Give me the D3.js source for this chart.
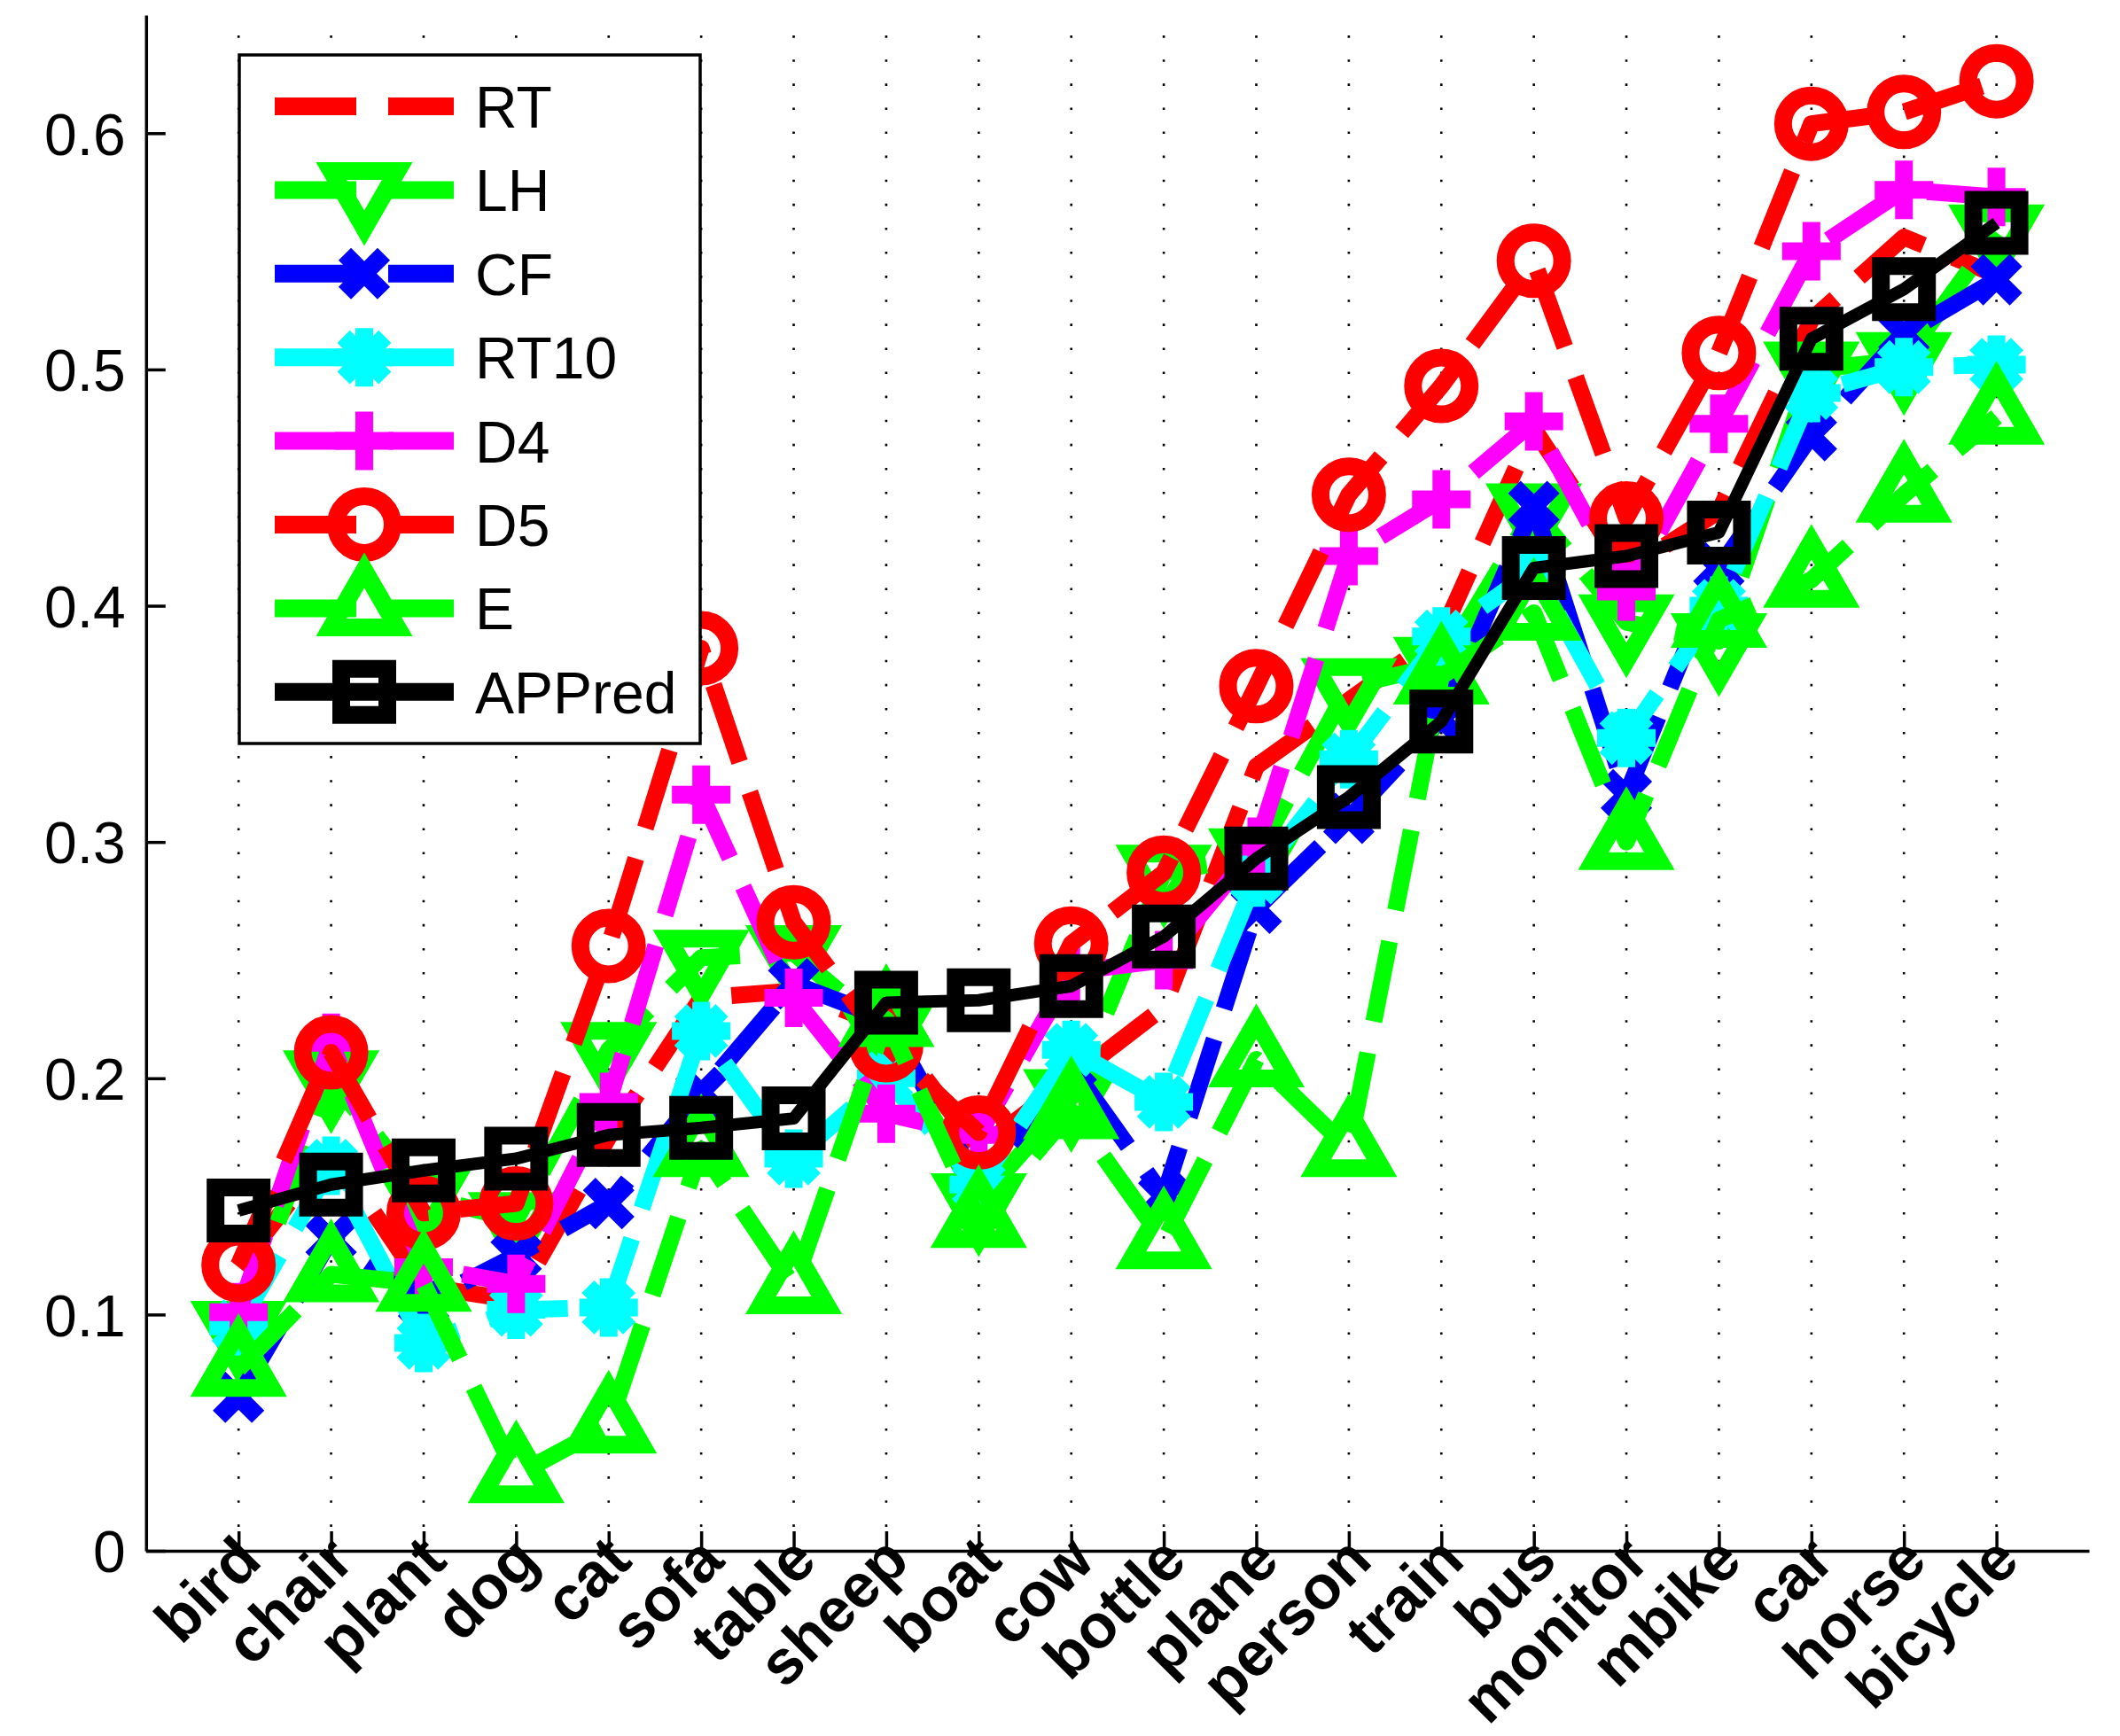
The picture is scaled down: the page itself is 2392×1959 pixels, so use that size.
<!DOCTYPE html>
<html lang="en">
<head>
    <meta charset="UTF-8">
    <title>AP per class</title>
    <script src="https://cdnjs.cloudflare.com/ajax/libs/d3/7.8.5/d3.min.js"></script>
    <style>
        body { margin: 0; background: #fff; }
        text { font-family: "Liberation Sans", Arial, Helvetica, sans-serif; }
    </style>
</head>
<body>
<svg id="chart" width="2392" height="1959"></svg>
<script>
    const categories = ["bird","chair","plant","dog","cat","sofa","table","sheep","boat","cow",
        "bottle","plane","person","train","bus","monitor","mbike","car","horse","bicycle"];

    const RT     = [0.120,0.170,0.112,0.106,0.175,0.234,0.237,0.222,0.170,0.200,0.230,0.332,0.360,0.388,0.475,0.415,0.440,0.521,0.556,0.540];
    const LH     = [0.094,0.200,0.150,0.140,0.212,0.251,0.253,0.220,0.148,0.192,0.287,0.294,0.366,0.375,0.440,0.393,0.385,0.500,0.504,0.558];
    const CF     = [0.065,0.132,0.105,0.125,0.147,0.194,0.240,0.225,0.155,0.205,0.150,0.272,0.310,0.352,0.442,0.320,0.416,0.472,0.515,0.538];
    const RT10   = [0.095,0.163,0.088,0.102,0.103,0.220,0.166,0.200,0.155,0.212,0.190,0.285,0.335,0.387,0.415,0.344,0.400,0.490,0.501,0.502];
    const D4     = [0.101,0.215,0.120,0.113,0.190,0.320,0.234,0.185,0.176,0.245,0.250,0.298,0.421,0.445,0.478,0.406,0.477,0.550,0.576,0.573];
    const D5     = [0.121,0.211,0.143,0.147,0.256,0.382,0.266,0.214,0.177,0.257,0.287,0.366,0.447,0.493,0.546,0.437,0.507,0.604,0.609,0.622];
    const E      = [0.077,0.117,0.113,0.032,0.053,0.170,0.112,0.225,0.140,0.186,0.131,0.208,0.170,0.370,0.397,0.300,0.394,0.411,0.447,0.480];
    const APPred = [0.144,0.155,0.161,0.166,0.176,0.179,0.183,0.232,0.233,0.239,0.260,0.293,0.319,0.351,0.416,0.421,0.431,0.513,0.534,0.562];

    const yTicks = [0, 0.1, 0.2, 0.3, 0.4, 0.5, 0.6];

    // plotting order as in the figure (later ones drawn on top)
    const series = [
        {name: "RT",     values: RT,     color: "#ff0000", marker: null},
        {name: "LH",     values: LH,     color: "#00ff00", marker: "tdown"},
        {name: "CF",     values: CF,     color: "#0000ff", marker: "x"},
        {name: "RT10",   values: RT10,   color: "#00ffff", marker: "star"},
        {name: "D4",     values: D4,     color: "#ff00ff", marker: "plus"},
        {name: "D5",     values: D5,     color: "#ff0000", marker: "circle"},
        {name: "E",      values: E,      color: "#00ff00", marker: "tup"},
        {name: "APPred", values: APPred, color: "#000000", marker: "square", solid: true}
    ];

    const axLeft = 164.8, axRight = 2357, axTop = 17, axBottom = 1750;
    const x = d3.scaleLinear().domain([0, 21]).range([axLeft, axRight]);
    const y = d3.scaleLinear().domain([0, 0.65]).range([axBottom, axTop]);

    const svg = d3.select("#chart");
    svg.append("rect").attr("width", 2392).attr("height", 1959).attr("fill", "#fff");

    // marker shapes, centred on 0,0
    const t = 21.5, s3 = Math.sqrt(3) * t, dg = 33 * Math.SQRT1_2;
    const markerPath = {
        tdown: `M${-s3},${-t}L${s3},${-t}L0,${2 * t}Z`,
        tup: `M${-s3},${t}L${s3},${t}L0,${-2 * t}Z`,
        x: "M-22,-22L22,22M-22,22L22,-22",
        plus: "M-33,0L33,0M0,-33L0,33",
        star: `M-33,0L33,0M0,-33L0,33M${-dg},${-dg}L${dg},${dg}M${-dg},${dg}L${dg},${-dg}`,
        circle: "M32,0A32,32 0 1,1 -32,0A32,32 0 1,1 32,0Z",
        square: "M-26,-26L26,-26L26,26L-26,26Z"
    };

    // dotted vertical grid
    svg.append("g").selectAll("line").data(d3.range(1, 21)).join("line")
        .attr("x1", i => x(i)).attr("x2", i => x(i))
        .attr("y1", axBottom).attr("y2", axTop)
        .attr("stroke", "#000").attr("stroke-width", 2.6)
        .attr("stroke-dasharray", "2.6 24.5");

    // axes
    const yAxis = d3.axisLeft(y).tickValues(yTicks).tickSizeInner(-22).tickSizeOuter(0).tickPadding(23)
        .tickFormat(v => v === 0 ? "0" : v.toFixed(1));
    const gy = svg.append("g").attr("transform", `translate(${axLeft},0)`).call(yAxis);
    gy.select(".domain").attr("stroke-width", 3.5);
    gy.selectAll(".tick line").attr("stroke-width", 3.5);
    gy.selectAll(".tick text").attr("font-size", 66).attr("dy", "0.36em").attr("fill", "#000")
        .style("font-family", '"Liberation Sans", Arial, sans-serif');

    const xAxis = d3.axisBottom(x).tickValues(d3.range(1, 21)).tickSizeInner(-22).tickSizeOuter(0)
        .tickFormat(i => categories[i - 1]);
    const gx = svg.append("g").attr("transform", `translate(0,${axBottom})`).call(xAxis);
    gx.select(".domain").attr("stroke-width", 3.5);
    gx.selectAll(".tick line").attr("stroke-width", 3.5);
    gx.selectAll(".tick text")
        .attr("y", null).attr("dy", null)
        .attr("transform", "translate(28,14) rotate(-45)")
        .attr("text-anchor", "end")
        .attr("font-size", 70).attr("font-weight", "bold").attr("fill", "#000")
        .style("font-family", '"Liberation Sans", Arial, sans-serif');

    const line = d3.line().x((v, i) => x(i + 1)).y(v => y(v));

    series.forEach(sr => {
        const g = svg.append("g");
        g.append("path").datum(sr.values).attr("d", line)
            .attr("fill", "none").attr("stroke", sr.color)
            .attr("stroke-width", sr.solid ? 14 : 19)
            .attr("stroke-dasharray", sr.solid ? null : "92 36")
            .attr("stroke-linejoin", "round");
        if (sr.marker) {
            g.selectAll("path.mk").data(sr.values).join("path").attr("class", "mk")
                .attr("d", markerPath[sr.marker])
                .attr("transform", (v, i) => `translate(${x(i + 1)},${y(v)})`)
                .attr("fill", "none").attr("stroke", sr.color).attr("stroke-width", 20)
                .attr("stroke-linejoin", "miter").attr("stroke-miterlimit", 4);
        }
    });

    // legend
    const lg = svg.append("g");
    lg.append("rect").attr("x", 270).attr("y", 62).attr("width", 520).attr("height", 777)
        .attr("fill", "#fff").attr("stroke", "#000").attr("stroke-width", 3.5);
    series.forEach((sr, k) => {
        const ly = 120 + k * 94.4;
        lg.append("line").attr("x1", 310).attr("x2", 512).attr("y1", ly).attr("y2", ly)
            .attr("stroke", sr.color).attr("stroke-width", 20)
            .attr("stroke-dasharray", sr.solid ? null : "92 36");
        if (sr.marker) {
            lg.append("path").attr("d", markerPath[sr.marker])
                .attr("transform", `translate(411,${ly})`)
                .attr("fill", "none").attr("stroke", sr.color).attr("stroke-width", 20)
                .attr("stroke-linejoin", "miter").attr("stroke-miterlimit", 4);
        }
        lg.append("text").attr("x", 536).attr("y", ly + 24).attr("font-size", 66)
            .attr("fill", "#000").text(sr.name);
    });
</script>
</body>
</html>
